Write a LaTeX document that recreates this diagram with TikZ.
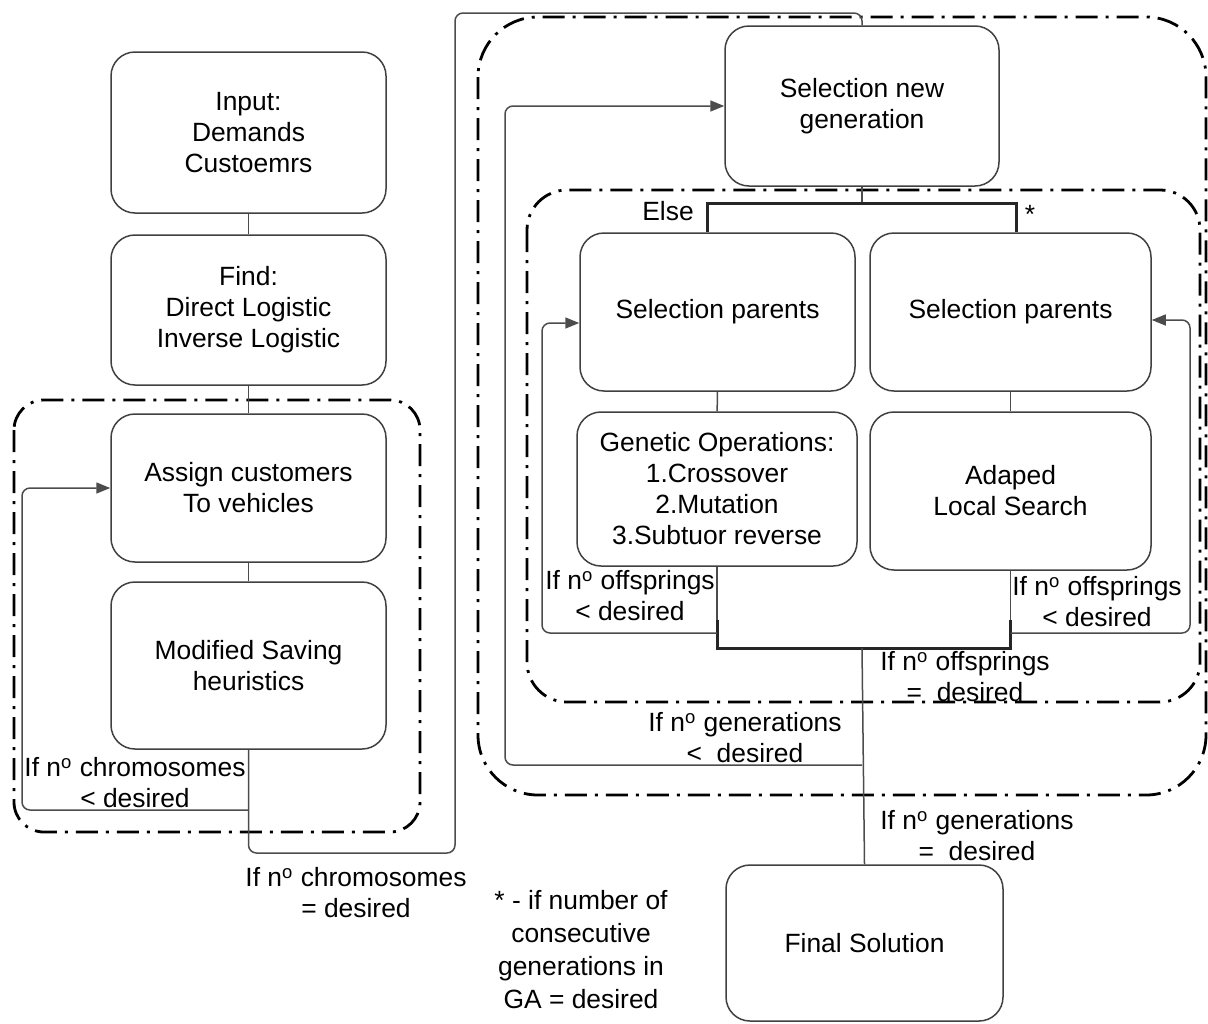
\documentclass[tikz,border=0pt]{standalone}
\usepackage{fontspec}
\setmainfont{Liberation Sans}
\usetikzlibrary{arrows.meta}
\newcommand{\no}{n\textsuperscript{o}}

\begin{document}
\begin{tikzpicture}[x=0.5pt, y=-0.5pt,
    font=\fontsize{13.2pt}{15.5pt}\selectfont,
    stepbox/.style={rectangle, rounded corners=12pt, draw=black!75, line width=0.75pt, align=center, inner sep=0pt},
    link/.style={draw=black!70, line width=0.75pt, rounded corners=4pt},
    bracket/.style={draw=black!85, line width=1.5pt},
    region/.style={draw=black, line width=1.4pt, dash pattern=on 11pt off 4pt on 1.5pt off 4pt},
    lbl/.style={align=center, inner sep=0pt},
    >={Triangle[length=7pt, width=5.5pt]}]
    \useasboundingbox (0,0) rectangle (1208,1023);

    % dash-dot regions
    \draw[region, rounded corners=15pt] (14,400) rectangle (420,832);
    \draw[region, rounded corners=30pt] (478,17) rectangle (1206,795);
    \draw[region, rounded corners=20pt] (527,190) rectangle (1200,702);

    % left column
    \node[stepbox, minimum width=137.5pt, minimum height=80.5pt] (input) at (248.5,132.5) {Input:\\Demands\\Custoemrs};
    \node[stepbox, minimum width=137.5pt, minimum height=75pt] (find) at (248.5,310) {Find:\\Direct Logistic\\Inverse Logistic};
    \node[stepbox, minimum width=137.5pt, minimum height=74pt] (assign) at (248.5,488) {Assign customers\\To vehicles};
    \node[stepbox, minimum width=137.5pt, minimum height=83.5pt] (saving) at (248.5,665.5) {Modified Saving\\heuristics};

    % genetic algorithm
    \node[stepbox, minimum width=137pt, minimum height=80pt] (selgen) at (862,106) {Selection new\\generation};
    \node[stepbox, minimum width=137.5pt, minimum height=79pt] (selL) at (717.5,312) {Selection parents};
    \node[stepbox, minimum width=140.5pt, minimum height=79pt] (selR) at (1010.5,312) {Selection parents};
    \node[stepbox, minimum width=140pt, minimum height=77pt] (genops) at (717,489) {Genetic Operations:\\1.Crossover\\2.Mutation\\3.Subtuor reverse};
    \node[stepbox, minimum width=140.5pt, minimum height=79pt] (adaped) at (1010.5,491) {Adaped\\Local Search};
    \node[stepbox, minimum width=138.5pt, minimum height=78pt] (final) at (864.5,943) {Final Solution};

    \coordinate (fork) at (862,203);
    \coordinate (join) at (862,648);
    \coordinate (genloop) at (862,765);

    % connectors
    \draw[link] (input) -- (find);
    \draw[link] (find) -- (assign);
    \draw[link] (assign) -- (saving);
    \draw[link, ->] (saving.south |- 0,810) -- (22,810) -- (22,488) -- (assign.west);
    \draw[link] (saving.south) -- (saving.south |- 0,853) -- (455,853) -- (455,13) -- (selgen.north |- 0,13) -- (selgen.north);

    \draw[link] (selgen.south) -- (fork);
    \draw[bracket] ([xshift=-5pt]selL.north) |- (fork) -| ([xshift=3pt]selR.north);
    \draw[link] (selL) -- (genops);
    \draw[link] (selR) -- (adaped);
    \draw[link] (genops.south) -- (genops.south |- join);
    \draw[link] (adaped.south) -- (adaped.south |- join);
    \draw[bracket] (genops.south |- 0,620) |- (join) -| (adaped.south |- 0,620);
    \draw[link, ->] (genops.south |- 0,633) -- (542,633) -- (542,323) -- (selL.west |- 0,323);
    \draw[link, ->] (adaped.south |- 0,633) -- (1190,633) -- (1190,320) -- (selR.east |- 0,320);
    \draw[link] (join) -- (final.north);
    \draw[link, ->] (genloop) -- (505,765) -- (505,106) -- (selgen.west);

    % labels
    \node[lbl] (else) at (668,211) {Else};
    \node[lbl] (star) at (1030,214) {*};
    \node[lbl] (chrless) at (135,783) {If \no\ chromosomes\\< desired};
    \node[lbl] (chreq) at (356,893) {If \no\ chromosomes\\= desired};
    \node[lbl] (offlessL) at (630,596) {If \no\ offsprings\\< desired};
    \node[lbl] (offlessR) at (1097,602) {If \no\ offsprings\\< desired};
    \node[lbl] (offeq) at (965,677) {If \no\ offsprings\\=\ \ desired};
    \node[lbl] (genless) at (745,738) {If \no\ generations\\<\ \ desired};
    \node[lbl] (geneq) at (977,836) {If \no\ generations\\=\ \ desired};
    \node[lbl, font=\fontsize{13.2pt}{16.5pt}\selectfont] (note) at (581,950) {* - if number of\\consecutive\\generations in\\GA = desired};
\end{tikzpicture}
\end{document}
